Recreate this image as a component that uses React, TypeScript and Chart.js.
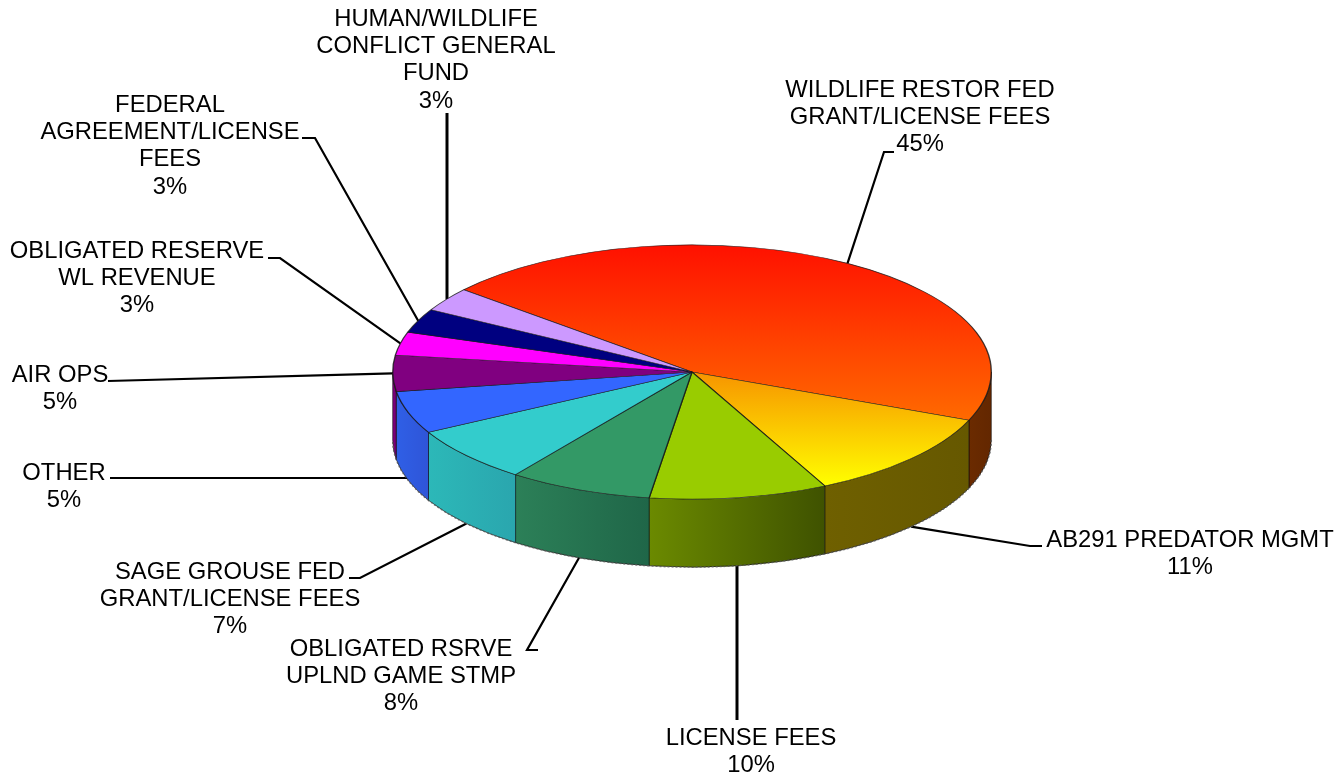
import React, { useEffect, useRef } from "react";
import { Chart, registerables } from "chart.js";

Chart.register(...registerables);

const categories = [
  "WILDLIFE RESTOR FED GRANT/LICENSE FEES",
  "AB291 PREDATOR MGMT",
  "LICENSE FEES",
  "OBLIGATED RSRVE UPLND GAME STMP",
  "SAGE GROUSE FED GRANT/LICENSE FEES",
  "OTHER",
  "AIR OPS",
  "OBLIGATED RESERVE WL REVENUE",
  "FEDERAL AGREEMENT/LICENSE FEES",
  "HUMAN/WILDLIFE CONFLICT GENERAL FUND",
];
const shares = [45, 11.49, 9.6, 7.75, 7.1, 5.4, 4.6, 2.94, 3.08, 3.04];

const labelLines = [
  ["WILDLIFE RESTOR FED", "GRANT/LICENSE FEES"],
  ["AB291 PREDATOR MGMT"],
  ["LICENSE FEES"],
  ["OBLIGATED RSRVE", "UPLND GAME STMP"],
  ["SAGE GROUSE FED", "GRANT/LICENSE FEES"],
  ["OTHER"],
  ["AIR OPS"],
  ["OBLIGATED RESERVE", "WL REVENUE"],
  ["FEDERAL", "AGREEMENT/LICENSE", "FEES"],
  ["HUMAN/WILDLIFE", "CONFLICT GENERAL", "FUND"],
];

const topFrom = ["#ff1000", "#f79400", "#99cc00", "#339966", "#33cccc", "#3366ff", "#800080", "#ff00ff", "#000080", "#cc99ff"];
const topTo = ["#ff6a00", "#ffff00", "#99cc00", "#339966", "#33cccc", "#3366ff", "#800080", "#ff00ff", "#000080", "#cc99ff"];
const wallFrom = ["#6b2b00", "#6f6000", "#6b8a00", "#2c8058", "#2cb8b8", "#2f5fe6", "#800080", "#ff00ff", "#000080", "#cc99ff"];
const wallTo = ["#632700", "#665800", "#3f5200", "#1f6648", "#2aa6ae", "#2f55d8", "#700070", "#ff00ff", "#000080", "#cc99ff"];

// Label placement: centre x, centre y of the first line.
const labelX = [920, 1190, 751, 401, 230, 64, 60, 137, 170, 436];
const labelY = [90, 540, 738, 649, 572, 473, 375, 251, 105, 19];
const lineStep = 27.4;
// Leader lines: points from label to elbow; the pie end comes from the slice.
const leaderPoints: number[][][] = [
  [[894, 152], [884, 152]],
  [[1042, 546], [1030, 546]],
  [[737, 720]],
  [[538, 650], [527, 650]],
  [[349, 578], [360, 578]],
  [[110, 478]],
  [[108, 381]],
  [[268, 258], [280, 258]],
  [[302, 138], [315, 138]],
  [[447, 113]],
];
const leaderWidth = [2.2, 2.2, 3, 2.2, 2.2, 2.2, 2.2, 2.2, 2.2, 3];
const leaderSnap = ["", "", "x", "", "", "y", "", "", "", "x"];

const ROTATION = -49.7;
const SQUASH = 127 / 299;
const DEPTH = 68;
const FONT = '23.8px "Liberation Sans", Arial, sans-serif';

const total = shares.reduce((a, b) => a + b, 0);

function sliceAngles(i: number) {
  const before = shares.slice(0, i).reduce((a, b) => a + b, 0);
  const base = ((ROTATION - 90) * Math.PI) / 180;
  return [base + (before / total) * 2 * Math.PI, base + ((before + shares[i]) / total) * 2 * Math.PI];
}

function topGradient(c: any) {
  const chart = c.chart;
  const area = chart.chartArea;
  const i = c.dataIndex;
  if (!area) return topFrom[i];
  const cy = (area.top + area.bottom) / 2;
  const r = (area.bottom - area.top) / 2;
  const [a, b] = sliceAngles(i);
  let lo = 0;
  let hi = 0;
  for (let k = 0; k <= 40; k++) {
    const s = Math.sin(a + ((b - a) * k) / 40);
    lo = Math.min(lo, s);
    hi = Math.max(hi, s);
  }
  const g = chart.ctx.createLinearGradient(0, cy + lo * r, 0, cy + hi * r);
  g.addColorStop(0, topFrom[i]);
  g.addColorStop(1, topTo[i]);
  return g;
}

const pie3d = {
  id: "pie3d",
  beforeDatasetsDraw(chart: any) {
    const ctx = chart.ctx;
    const arcs = chart.getDatasetMeta(0).data;
    const cx = arcs[0].x;
    const cy = arcs[0].y;
    const R = arcs[0].outerRadius;
    const Ry = R * SQUASH;

    // Leader lines and labels
    arcs.forEach((arc: any, i: number) => {
      const mid = (arc.startAngle + arc.endAngle) / 2;
      let ax = cx + R * Math.cos(mid);
      let ay = cy + Ry * Math.sin(mid);
      if (Math.sin(mid) > 0.02) ay += DEPTH;
      const pts = leaderPoints[i];
      if (leaderSnap[i] === "x") ax = pts[0][0];
      if (leaderSnap[i] === "y") ay = pts[0][1];
      ctx.save();
      ctx.beginPath();
      ctx.moveTo(pts[0][0], pts[0][1]);
      pts.slice(1).forEach((p) => ctx.lineTo(p[0], p[1]));
      ctx.lineTo(ax, ay);
      ctx.lineWidth = leaderWidth[i];
      ctx.strokeStyle = "#000";
      ctx.stroke();
      ctx.font = FONT;
      ctx.fillStyle = "#000";
      ctx.textAlign = "center";
      ctx.textBaseline = "middle";
      const lines = [...labelLines[i], Math.round(shares[i]) + "%"];
      lines.forEach((t, k) => ctx.fillText(t, labelX[i], labelY[i] + k * lineStep));
      ctx.restore();
    });

    // Side walls of the slices on the front half
    arcs.forEach((arc: any, i: number) => {
      for (const shift of [0, 2 * Math.PI]) {
        const a = Math.max(arc.startAngle, shift);
        const b = Math.min(arc.endAngle, shift + Math.PI);
        if (b <= a) continue;
        const x0 = cx + R * Math.cos(a);
        const x1 = cx + R * Math.cos(b);
        const g = ctx.createLinearGradient(Math.max(x0, x1), 0, Math.min(x0, x1), 0);
        g.addColorStop(0, wallTo[i]);
        g.addColorStop(1, wallFrom[i]);
        ctx.save();
        ctx.beginPath();
        ctx.ellipse(cx, cy, R, Ry, 0, a, b);
        ctx.ellipse(cx, cy + DEPTH, R, Ry, 0, b, a, true);
        ctx.closePath();
        ctx.fillStyle = g;
        ctx.fill();
        ctx.lineWidth = 1;
        ctx.strokeStyle = "rgba(0,0,0,0.55)";
        ctx.stroke();
        ctx.beginPath();
        ctx.ellipse(cx, cy + DEPTH, R, Ry, 0, a, b);
        ctx.setLineDash([2, 2]);
        ctx.lineWidth = 1.5;
        ctx.strokeStyle = "rgba(90,90,90,0.8)";
        ctx.stroke();
        ctx.restore();
      }
    });

    // Squash the pie that Chart.js draws next into an ellipse
    ctx.save();
    ctx.translate(0, cy);
    ctx.scale(1, SQUASH);
    ctx.translate(0, -cy);
  },
  afterDatasetsDraw(chart: any) {
    chart.ctx.restore();
  },
};

export default function App() {
  const ref = useRef<HTMLCanvasElement>(null);
  useEffect(() => {
    const chart = new Chart(ref.current as HTMLCanvasElement, {
      type: "pie",
      data: {
        labels: categories,
        datasets: [
          {
            data: shares,
            backgroundColor: topGradient,
            borderColor: "rgba(20,20,20,0.8)",
            borderWidth: 1.4,
          },
        ],
      },
      options: {
        responsive: false,
        animation: false,
        rotation: ROTATION,
        layout: { padding: { left: 392, right: 348, top: 72, bottom: 107 } },
        plugins: { legend: { display: false }, tooltip: { enabled: false } },
      },
      plugins: [pie3d],
    } as any);
    return () => chart.destroy();
  }, []);
  return (
    <canvas
      ref={ref}
      width={1340}
      height={779}
      style={{ position: "fixed", left: 0, top: 0, width: 1340, height: 779, background: "#fff" }}
    />
  );
}
